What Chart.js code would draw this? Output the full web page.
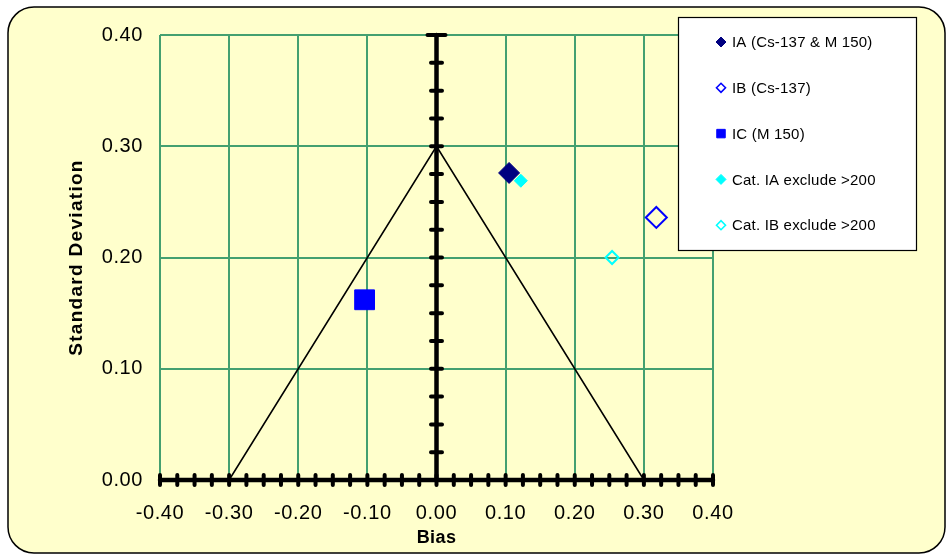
<!DOCTYPE html>
<html><head><meta charset="utf-8">
<script src="https://cdn.jsdelivr.net/npm/chart.js@4/dist/chart.umd.min.js"></script>
<style>html,body{margin:0;padding:0;background:#fff;}#wrap{position:relative;width:952px;height:559px;}canvas{display:block;}</style>
</head><body><div id="wrap"><canvas id="c" width="952" height="559"></canvas></div>
<script>
// ---- data ----
const seriesNames = ["IA (Cs-137 & M 150)", "IB (Cs-137)", "IC (M 150)", "Cat. IA exclude >200", "Cat. IB exclude >200"];
const biasValues = [0.105, 0.318, -0.104, 0.122, 0.254];
const sdValues = [0.276, 0.236, 0.162, 0.269, 0.200];
const triangleBias = [-0.3, 0.0, 0.3];
const triangleSD = [0.0, 0.3, 0.0];
const xTickValues = [-0.4, -0.3, -0.2, -0.1, 0.0, 0.1, 0.2, 0.3, 0.4];
const yTickValues = [0.0, 0.1, 0.2, 0.3, 0.4];
const axisMinorStep = 0.025;

// ---- styles ----
const seriesStyles = [
  {shape:'rectRot', fill:'#000080', stroke:'#000080', r:10.5, bw:1, lr:5, lfill:true},
  {shape:'rectRot', fill:'rgba(0,0,0,0)', stroke:'#0000FF', r:10.5, bw:2, lr:4.5, lfill:false},
  {shape:'rect', fill:'#0000FF', stroke:'#0000FF', r:14, bw:1, lr:6, lfill:true},
  {shape:'rectRot', fill:'#00FFFF', stroke:'#00FFFF', r:6.5, bw:1, lr:5, lfill:true},
  {shape:'rectRot', fill:'rgba(0,0,0,0)', stroke:'#00FFFF', r:6.5, bw:2, lr:4.5, lfill:false}
];
const GRID = '#44a070';
const BG = '#FFFFCC';
const FONT = '"Liberation Sans", Arial, sans-serif';

const datasets = [{
  type:'line', label:'_tri', data: triangleBias.map((b,i)=>({x:b, y:triangleSD[i]})),
  borderColor:'#000', borderWidth:1.6, pointRadius:0, fill:false, tension:0, order:10
}];
seriesNames.forEach((n,i)=>{
  const s = seriesStyles[i];
  datasets.push({type:'scatter', label:n, data:[{x:biasValues[i], y:sdValues[i]}],
    pointStyle:s.shape, pointRadius:s.r, pointHoverRadius:s.r, backgroundColor:s.fill,
    borderColor:s.stroke, pointBorderWidth:s.bw, borderWidth:s.bw, order:5-i});
});

function wrapSpacing(scale, titleSp, labelSp){
  if (scale._spWrapped) return;
  scale._spWrapped = true;
  const proto = Object.getPrototypeOf(scale);
  scale.drawTitle = function(){ const c=this.ctx; const o=c.letterSpacing; c.letterSpacing=titleSp; proto.drawTitle.call(this); c.letterSpacing=o; };
  scale.drawLabels = function(a){ const c=this.ctx; const o=c.letterSpacing; c.letterSpacing=labelSp; proto.drawLabels.call(this,a); c.letterSpacing=o; };
}

const bgPlugin = {
  id:'bg',
  afterUpdate(chart){
    wrapSpacing(chart.scales.x, '0.4px', '0.6px');
    wrapSpacing(chart.scales.y, '1.3px', '0.6px');
  },
  beforeDraw(chart){
    const ctx = chart.ctx;
    ctx.save();
    ctx.fillStyle = '#fff'; ctx.fillRect(0,0,chart.width,chart.height);
    const x0=8,y0=7,x1=945,y1=553,r=26;
    ctx.beginPath();
    ctx.moveTo(x0+r,y0); ctx.lineTo(x1-r,y0); ctx.arcTo(x1,y0,x1,y0+r,r);
    ctx.lineTo(x1,y1-r); ctx.arcTo(x1,y1,x1-r,y1,r); ctx.lineTo(x0+r,y1);
    ctx.arcTo(x0,y1,x0,y1-r,r); ctx.lineTo(x0,y0+r); ctx.arcTo(x0,y0,x0+r,y0,r);
    ctx.closePath();
    ctx.fillStyle = BG; ctx.fill();
    ctx.lineWidth = 1.5; ctx.strokeStyle = '#000'; ctx.stroke();
    ctx.restore();
  },
  beforeDatasetsDraw(chart){
    const ctx = chart.ctx, xs = chart.scales.x, ys = chart.scales.y;
    const x0 = xs.getPixelForValue(0), y0 = ys.getPixelForValue(0);
    ctx.save();
    ctx.strokeStyle = '#000'; ctx.lineCap = 'round';
    ctx.lineWidth = 4.5;
    ctx.beginPath();
    ctx.moveTo(xs.left, y0); ctx.lineTo(xs.right, y0);
    ctx.moveTo(x0, ys.bottom); ctx.lineTo(x0, ys.top);
    ctx.stroke();
    ctx.lineWidth = 4;
    ctx.beginPath();
    const nx = Math.round((xs.max - xs.min)/axisMinorStep);
    for(let k=0;k<=nx;k++){
      const px = xs.getPixelForValue(xs.min + k*axisMinorStep);
      ctx.moveTo(px, y0-5); ctx.lineTo(px, y0+5);
    }
    const ny = Math.round((ys.max - ys.min)/axisMinorStep);
    for(let k=0;k<=ny;k++){
      const py = ys.getPixelForValue(ys.min + k*axisMinorStep);
      const w = (k===ny)?9:5.5;
      ctx.moveTo(x0-w, py); ctx.lineTo(x0+w, py);
    }
    ctx.stroke();
    ctx.restore();
  },
  afterDraw(chart){
    const ctx = chart.ctx;
    ctx.save();
    ctx.letterSpacing = '0.2px';
    const bx=678, by=17, bw=238, bh=233;
    ctx.fillStyle='#fff'; ctx.fillRect(bx,by,bw,bh);
    ctx.strokeStyle='#000'; ctx.lineWidth=1.2; ctx.strokeRect(bx+0.5,by+0.5,bw,bh);
    ctx.font = '15px ' + FONT;
    ctx.textBaseline='middle'; ctx.textAlign='left';
    seriesNames.forEach((n,i)=>{
      const s = seriesStyles[i];
      const y = by + 25 + i*45.8;
      ctx.fillStyle = s.lfill ? s.fill : 'rgba(0,0,0,0)';
      ctx.strokeStyle = s.stroke;
      ctx.lineWidth = s.lfill ? 1 : 1.6;
      Chart.helpers.drawPoint(ctx, {pointStyle:s.shape, radius:s.lr, rotation:0, borderWidth:ctx.lineWidth}, 721, y);
      ctx.fillStyle='#000';
      ctx.fillText(n, 732, y+1);
    });
    ctx.restore();
  }
};

new Chart(document.getElementById('c'), {
  data:{datasets},
  options:{
    responsive:false, animation:false, devicePixelRatio:1,
    layout:{padding:{left:0, top:35, right:239, bottom:0}},
    plugins:{legend:{display:false}, tooltip:{enabled:false}},
    scales:{
      x:{type:'linear', min:-0.4, max:0.4,
        afterBuildTicks(s){ s.ticks = xTickValues.map(v=>({value:v})); },
        afterFit(s){ s.height = 79; },
        grid:{color:GRID, lineWidth:2, drawTicks:false},
        border:{display:false},
        ticks:{padding:21, color:'#000', font:{family:FONT, size:20}, callback:v=>v.toFixed(2), maxRotation:0},
        title:{display:true, text:'Bias', color:'#000', font:{family:FONT, size:18, weight:'bold'}, padding:{top:0,bottom:10}}
      },
      y:{type:'linear', min:0, max:0.4,
        afterBuildTicks(s){ s.ticks = yTickValues.map(v=>({value:v})); },
        afterFit(s){ s.width = 160; },
        grid:{color:GRID, lineWidth:2, drawTicks:false},
        border:{display:false},
        ticks:{padding:17, color:'#000', font:{family:FONT, size:20}, callback:v=>v.toFixed(2)},
        title:{display:true, text:'Standard Deviation', color:'#000', font:{family:FONT, size:19, weight:'bold'}, padding:{top:65,bottom:0}}
      }
    }
  },
  plugins:[bgPlugin]
});
</script></body></html>
